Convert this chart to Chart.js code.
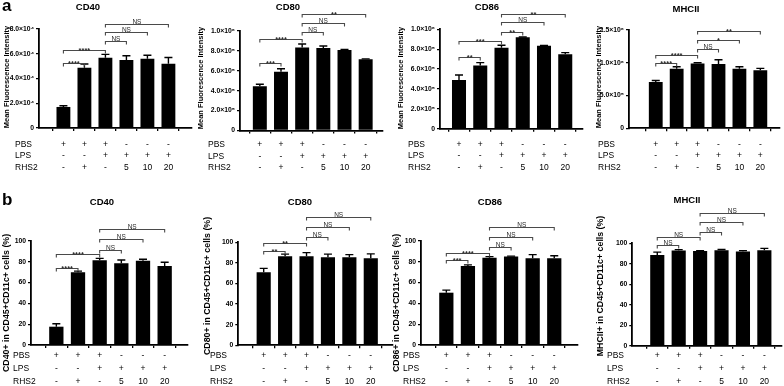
<!DOCTYPE html>
<html>
<head>
<meta charset="utf-8">
<script src="https://cdn.jsdelivr.net/npm/chart.js@4.4.1/dist/chart.umd.min.js"></script>
<style>
  html, body { margin: 0; padding: 0; background: #fff; }
  #wrap { position: relative; width: 784px; height: 386px; overflow: hidden; }
  #wrap canvas { position: absolute; left: 0; top: 0; }
</style>
</head>
<body>
<div id="wrap"></div>
<script>
const FONT = "'Liberation Sans', Arial, sans-serif";

// treatment rows under every panel
const rowNames = ['PBS', 'LPS', 'RHS2'];
const pbs  = ['+', '+', '+', '-', '-', '-'];
const lps  = ['-', '-', '+', '+', '+', '+'];
const rhs2 = ['-', '+', '-', '5', '10', '20'];

// a: mean fluorescence intensity (mean, error)
const mfiCD40 = [1.7e4, 4.87e4, 5.68e4, 5.49e4, 5.6e4, 5.2e4];
const mfiCD40Err = [0.1e4, 0.3e4, 0.27e4, 0.35e4, 0.28e4, 0.5e4];
const mfiCD80 = [4.45e5, 5.9e5, 8.35e5, 8.3e5, 8.1e5, 7.15e5];
const mfiCD80Err = [0.2e5, 0.3e5, 0.35e5, 0.2e5, 0.05e5, 0.05e5];
const mfiCD86 = [4.9e5, 6.35e5, 8.15e5, 9.2e5, 8.35e5, 7.5e5];
const mfiCD86Err = [0.5e5, 0.3e5, 0.25e5, 0.03e5, 0.03e5, 0.15e5];
const mfiMHCII = [0.705e6, 0.91e6, 0.99e6, 0.98e6, 0.91e6, 0.885e6];
const mfiMHCIIErr = [0.025e6, 0.03e6, 0.01e6, 0.065e6, 0.03e6, 0.03e6];

// b: percentage of positive cells in CD45+CD11c+ (mean, error)
const pctCD40 = [17.6, 70, 81.5, 78.5, 81, 76];
const pctCD40Err = [2.8, 1, 1.8, 3.3, 1.5, 3.5];
const pctCD80 = [71, 86.5, 86.5, 85.5, 85.5, 84.5];
const pctCD80Err = [3.7, 2, 3.5, 3, 2.5, 4.3];
const pctCD86 = [50.3, 76, 84, 85, 83.3, 83.5];
const pctCD86Err = [2.5, 1, 1, 0.5, 3.6, 2.3];
const pctMHCII = [88.5, 93, 92.5, 93.2, 92, 93.2];
const pctMHCIIErr = [2.9, 0.8, 0.3, 0.8, 0.8, 1.8];

// significance brackets: [from, to, level (y units), label]
const sigMfiCD40 = [[0, 1, 5.28e4, '****'], [0, 2, 6.34e4, '****'], [2, 3, 7.03e4, 'NS'], [2, 4, 7.73e4, 'NS'], [2, 5, 8.4e4, 'NS']];
const sigMfiCD80 = [[0, 1, 6.81e5, '***'], [0, 2, 9.2e5, '****'], [2, 3, 9.87e5, 'NS'], [2, 4, 1.077e6, 'NS'], [2, 5, 1.171e6, '**']];
const sigMfiCD86 = [[0, 1, 7.18e5, '**'], [0, 2, 8.85e5, '***'], [2, 3, 9.75e5, '**'], [2, 4, 1.076e6, 'NS'], [2, 5, 1.154e6, '**']];
const sigMfiMHCII = [[0, 1, 1.0e6, '****'], [0, 2, 1.12e6, '****'], [2, 3, 1.205e6, 'NS'], [2, 4, 1.347e6, '*'], [2, 5, 1.485e6, '**']];
const sigPctCD40 = [[0, 1, 74.3, '****'], [0, 2, 87.2, '****'], [2, 3, 91.3, 'NS'], [2, 4, 101.6, 'NS'], [2, 5, 111.2, 'NS']];
const sigPctCD80 = [[0, 1, 91.6, '**'], [0, 2, 99.6, '**'], [2, 3, 105.4, 'NS'], [2, 4, 114.9, 'NS'], [2, 5, 124.3, 'NS']];
const sigPctCD86 = [[0, 1, 81.4, '***'], [0, 2, 88.8, '****'], [2, 3, 93.9, 'NS'], [2, 4, 104.1, 'NS'], [2, 5, 113.8, 'NS']];
const sigPctMHCII = [[0, 1, 98.3, 'NS'], [0, 2, 106.4, 'NS'], [2, 3, 110.7, 'NS'], [2, 4, 120.8, 'NS'], [2, 5, 129.9, 'NS']];

const SUP = {'0': '\u2070', '1': '\u00b9', '2': '\u00b2', '3': '\u00b3', '4': '\u2074', '5': '\u2075', '6': '\u2076', '7': '\u2077', '8': '\u2078', '9': '\u2079'};

function sciLabel(v) {
    if (v === 0) return '0';
    const exp = Math.floor(Math.log10(v) + 1e-9);
    const mant = (v / Math.pow(10, exp)).toFixed(1);
    return mant + '\u00d710' + String(exp).split('').map(d => SUP[d]).join('');
}

const panels = [
    { title: 'CD40', values: mfiCD40, errs: mfiCD40Err, sig: sigMfiCD40, ymax: 8e4, step: 2e4, sci: true,
      yTitle: 'Mean Fluorescence Intensity', letter: 'a',
      ax: 39, x0: 53, dx: 25.2, xe: 192, y0: 128, yt: 29, rowY: 144.5, rowGap: 11.5, rowX: 15,
      titleX: 88, titleY: 7, yTitleX: 7, yTitleY: 77 },
    { title: 'CD80', values: mfiCD80, errs: mfiCD80Err, sig: sigMfiCD80, ymax: 1e6, step: 2e5, sci: true,
      yTitle: 'Mean Fluorescence Intensity',
      ax: 240, x0: 249.5, dx: 25.4, xe: 383, y0: 130.5, yt: 31, rowY: 145, rowGap: 11.5, rowX: 208,
      titleX: 288, titleY: 7, yTitleX: 200.5, yTitleY: 78 },
    { title: 'CD86', values: mfiCD86, errs: mfiCD86Err, sig: sigMfiCD86, ymax: 1e6, step: 2e5, sci: true,
      yTitle: 'Mean Fluorescence Intensity',
      ax: 440, x0: 448.5, dx: 25.5, xe: 583, y0: 128.7, yt: 29.3, rowY: 144.5, rowGap: 11.5, rowX: 408,
      titleX: 487, titleY: 7, yTitleX: 400.5, yTitleY: 78 },
    { title: 'MHCII', values: mfiMHCII, errs: mfiMHCIIErr, sig: sigMfiMHCII, ymax: 1.5e6, step: 5e5, sci: true,
      yTitle: 'Mean Fluorescence Intensity',
      ax: 629, x0: 646, dx: 25.1, xe: 780, y0: 128.3, yt: 30, rowY: 144.5, rowGap: 11.5, rowX: 598,
      titleX: 686, titleY: 9, yTitleX: 599, yTitleY: 77 },
    { title: 'CD40', values: pctCD40, errs: pctCD40Err, sig: sigPctCD40, ymax: 100, step: 20, sci: false,
      yTitle: 'CD40+ in CD45+CD11c+ cells (%)', letter: 'b',
      ax: 31, x0: 45.7, dx: 26, xe: 188, y0: 345, yt: 241, rowY: 356, rowGap: 13, rowX: 13,
      titleX: 102, titleY: 202, yTitleX: 6.5, yTitleY: 303 },
    { title: 'CD80', values: pctCD80, errs: pctCD80Err, sig: sigPctCD80, ymax: 100, step: 20, sci: false,
      yTitle: 'CD80+ in CD45+CD11c+ cells (%)',
      ax: 238.3, x0: 253.3, dx: 25.7, xe: 393, y0: 345.3, yt: 242.3, rowY: 356, rowGap: 13, rowX: 210,
      titleX: 300, titleY: 202, yTitleX: 207.5, yTitleY: 286 },
    { title: 'CD86', values: pctCD86, errs: pctCD86Err, sig: sigPctCD86, ymax: 100, step: 20, sci: false,
      yTitle: 'CD86+ in CD45+CD11c+ cells (%)',
      ax: 421, x0: 435.7, dx: 25.9, xe: 578, y0: 345, yt: 241, rowY: 356, rowGap: 13, rowX: 403,
      titleX: 490, titleY: 202, yTitleX: 397, yTitleY: 303 },
    { title: 'MHCII', values: pctMHCII, errs: pctMHCIIErr, sig: sigPctMHCII, ymax: 100, step: 20, sci: false,
      yTitle: 'MHCII+ in CD45+CD11c+ cells (%)',
      ax: 632.3, x0: 647.3, dx: 25.7, xe: 782, y0: 345.7, yt: 243.3, rowY: 356, rowGap: 13, rowX: 607,
      titleX: 687, titleY: 200, yTitleX: 601, yTitleY: 286 }
];

const Y_W = 30, X_H = 50, TICK_LEN = 3;

// error bars, brackets and all the free text around a panel
const extras = {
    id: 'extras',
    afterDatasetsDraw(chart) {
        const p = chart.options.plugins.extras;
        const ctx = chart.ctx;
        const xs = chart.scales.x, ys = chart.scales.y;
        ctx.save();
        ctx.strokeStyle = '#000';
        ctx.lineWidth = 1.4;
        p.values.forEach((v, i) => {
            const x = xs.getPixelForValue(i);
            const yv = ys.getPixelForValue(v);
            const ye = ys.getPixelForValue(v + p.errs[i]);
            ctx.beginPath();
            ctx.moveTo(x, yv);
            ctx.lineTo(x, ye);
            ctx.moveTo(x - 4, ye);
            ctx.lineTo(x + 4, ye);
            ctx.stroke();
        });
        ctx.restore();
    },
    afterDraw(chart) {
        const p = chart.options.plugins.extras;
        const ctx = chart.ctx;
        const xs = chart.scales.x, ys = chart.scales.y;
        ctx.save();

        // brackets
        p.sig.forEach(([a, b, level, label]) => {
            const xa = xs.getPixelForValue(a), xb = xs.getPixelForValue(b);
            const y = Math.round(ys.getPixelForValue(level)) + 0.5;
            ctx.strokeStyle = '#4a4a4a';
            ctx.lineWidth = 1.1;
            ctx.beginPath();
            ctx.moveTo(xa, y + 3);
            ctx.lineTo(xa, y);
            ctx.lineTo(xb, y);
            ctx.lineTo(xb, y + 3);
            ctx.stroke();
            ctx.fillStyle = '#2a2a2a';
            ctx.textAlign = 'center';
            ctx.textBaseline = 'alphabetic';
            if (label === 'NS') {
                ctx.font = '6.5px ' + FONT;
                ctx.fillText(label, (xa + xb) / 2, y - 1);
            } else {
                ctx.font = 'bold 7.5px ' + FONT;
                ctx.fillText(label, (xa + xb) / 2, y + 2.5);
            }
        });

        ctx.fillStyle = '#000';
        // panel title
        ctx.font = 'bold 9.5px ' + FONT;
        ctx.textAlign = 'center';
        ctx.textBaseline = 'middle';
        ctx.fillText(p.title, p.titleX, p.titleY);

        // panel letter
        if (p.letter) {
            ctx.font = 'bold 17px ' + FONT;
            ctx.textAlign = 'left';
            ctx.textBaseline = 'top';
            ctx.fillText(p.letter, 2, p.letter === 'a' ? -2 : 192);
        }

        // y axis title
        ctx.save();
        ctx.translate(p.yTitleX, p.yTitleY);
        ctx.rotate(-Math.PI / 2);
        ctx.font = (p.sci ? 'bold 7.5px ' : 'bold 8.8px ') + FONT;
        ctx.textAlign = 'center';
        ctx.textBaseline = 'middle';
        ctx.fillText(p.yTitle, 0, 0);
        ctx.restore();

        // row names of the treatment table
        ctx.font = '8.5px ' + FONT;
        ctx.textAlign = 'left';
        ctx.textBaseline = 'middle';
        rowNames.forEach((name, k) => {
            ctx.fillText(name, p.rowX, p.rowY + k * p.rowGap);
        });
        ctx.restore();
    }
};

const wrap = document.getElementById('wrap');

panels.forEach(p => {
    const canvas = document.createElement('canvas');
    canvas.width = 784;
    canvas.height = 386;
    wrap.appendChild(canvas);

    new Chart(canvas, {
        type: 'bar',
        data: {
            datasets: [{
                data: p.values.map((v, i) => ({ x: i, y: v })),
                backgroundColor: '#000',
                borderWidth: 0,
                barPercentage: 0.66,
                categoryPercentage: 1
            }]
        },
        options: {
            responsive: false,
            animation: false,
            devicePixelRatio: 1,
            events: [],
            layout: {
                padding: {
                    left: p.ax - Y_W,
                    top: p.yt,
                    right: 784 - p.xe,
                    bottom: 386 - p.y0 - X_H
                }
            },
            plugins: {
                legend: { display: false },
                tooltip: { enabled: false },
                extras: p
            },
            scales: {
                x: {
                    type: 'linear',
                    min: (p.ax - p.x0) / p.dx,
                    max: (p.xe - p.x0) / p.dx,
                    afterBuildTicks: s => { s.ticks = pbs.map((_, i) => ({ value: i })); },
                    afterFit: s => { s.height = X_H; },
                    grid: { display: true, drawOnChartArea: false, tickLength: TICK_LEN, color: '#000', lineWidth: 1.3 },
                    border: { display: true, color: '#000', width: 1.8 },
                    ticks: {
                        autoSkip: false,
                        maxRotation: 0,
                        padding: p.rowY - p.y0 - TICK_LEN - p.rowGap / 2,
                        color: '#000',
                        font: { family: FONT, size: 8.5, lineHeight: p.rowGap / 8.5 },
                        callback: v => [pbs[v], lps[v], rhs2[v]]
                    }
                },
                y: {
                    min: 0,
                    max: p.ymax,
                    afterFit: s => { s.width = Y_W; },
                    grid: { display: true, drawOnChartArea: false, tickLength: TICK_LEN, color: '#000', lineWidth: 1.3 },
                    border: { display: true, color: '#000', width: 1.8 },
                    ticks: {
                        stepSize: p.step,
                        padding: 2,
                        color: '#000',
                        font: { family: FONT, size: 6.8, weight: 'bold' },
                        callback: v => p.sci ? sciLabel(v) : String(v)
                    }
                }
            }
        },
        plugins: [extras]
    });
});
</script>
</body>
</html>
